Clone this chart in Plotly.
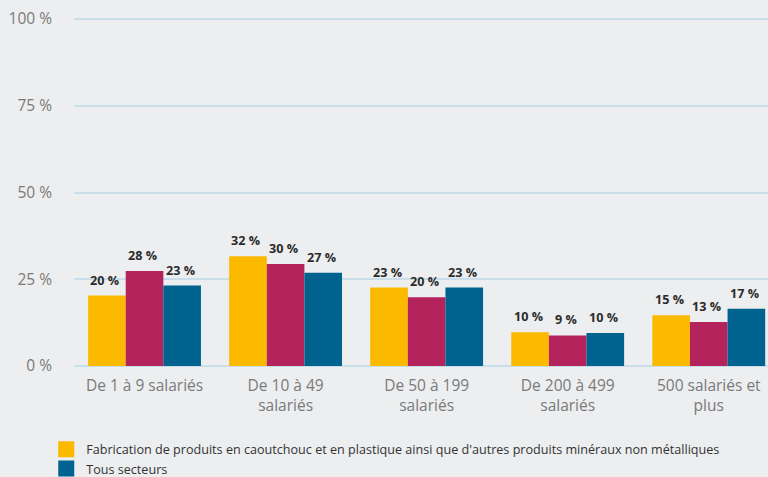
import plotly.graph_objects as go

categories = ["De 1 à 9 salariés", "De 10 à 49<br>salariés", "De 50 à 199<br>salariés",
              "De 200 à 499<br>salariés", "500 salariés et<br>plus"]
serie_caoutchouc = [20.3, 31.6, 22.6, 9.7, 14.6]
serie_industrie = [27.4, 29.4, 19.8, 8.8, 12.7]
serie_tous = [23.2, 26.9, 22.6, 9.5, 16.5]
labels_caoutchouc = ["20 %", "32 %", "23 %", "10 %", "15 %"]
labels_industrie = ["28 %", "30 %", "20 %", "9 %", "13 %"]
labels_tous = ["23 %", "27 %", "23 %", "10 %", "17 %"]
names = ["Fabrication de produits en caoutchouc et en plastique ainsi que d'autres produits minéraux non métalliques",
         "Industrie", "Tous secteurs"]
tick_vals = [0, 25, 50, 75, 100]
tick_text = ["0 %", "25 %", "50 %", "75 %", "100 %"]

colors = ["#fbb900", "#b4235c", "#00628f"]
series = [serie_caoutchouc, serie_industrie, serie_tous]
labels = [labels_caoutchouc, labels_industrie, labels_tous]

fig = go.Figure()
xidx = list(range(len(categories)))
for s, c, n in zip(series, colors, names):
    fig.add_trace(go.Bar(x=xidx, y=s, marker=dict(color=c, line=dict(width=0)),
                         name=n, showlegend=False, hoverinfo="skip"))

# legend entries (yellow and blue only, as in reference)
for i in [0, 2]:
    fig.add_trace(go.Scatter(x=[None], y=[None], mode="markers",
                             marker=dict(symbol="square", size=18, color=colors[i]),
                             name=names[i], showlegend=True))

bar_px = 37.6
annotations = []
for si, (s, lab) in enumerate(zip(series, labels)):
    for xi, (v, t) in enumerate(zip(s, lab)):
        annotations.append(dict(x=xi, y=v, text="<b>" + t + "</b>", showarrow=False,
                                xref="x", yref="y", yanchor="bottom",
                                xshift=(si - 1) * bar_px - 2, yshift=5,
                                font=dict(family="Open Sans", size=12.6, color="#2b2b2b")))

fig.update_layout(
    width=768, height=477,
    margin=dict(l=74, r=0, t=18, b=111),
    paper_bgcolor="#eceef0", plot_bgcolor="#eceef0",
    barmode="group", bargap=0.2, bargroupgap=0,
    font=dict(family="Open Sans", color="#7a7a7a", size=15.5),
    annotations=annotations,
    xaxis=dict(range=[-0.5, 4.42], tickvals=xidx, ticktext=categories,
               showgrid=False, zeroline=False, showline=False, ticks="",
               ticklabelstandoff=8, automargin=False,
               tickfont=dict(size=15.5, color="#7a7a7a")),
    yaxis=dict(range=[0, 100.3], tickvals=tick_vals, ticktext=tick_text,
               showgrid=True, gridcolor="#c8dfe9", gridwidth=2,
               zeroline=True, zerolinecolor="#c8dfe9", zerolinewidth=2,
               ticklabelstandoff=21, automargin=False,
               tickfont=dict(size=15.5, color="#7a7a7a")),
    legend=dict(x=-0.04, xref="paper", y=0.089, yref="container",
                xanchor="left", yanchor="top", orientation="v",
                font=dict(size=12.6, color="#333333"), bgcolor="rgba(0,0,0,0)",
                tracegroupgap=0, itemsizing="trace"),
    showlegend=True,
)

fig.write_html("out.html", config={"displayModeBar": False},
               post_script="document.body.style.margin='0';")
